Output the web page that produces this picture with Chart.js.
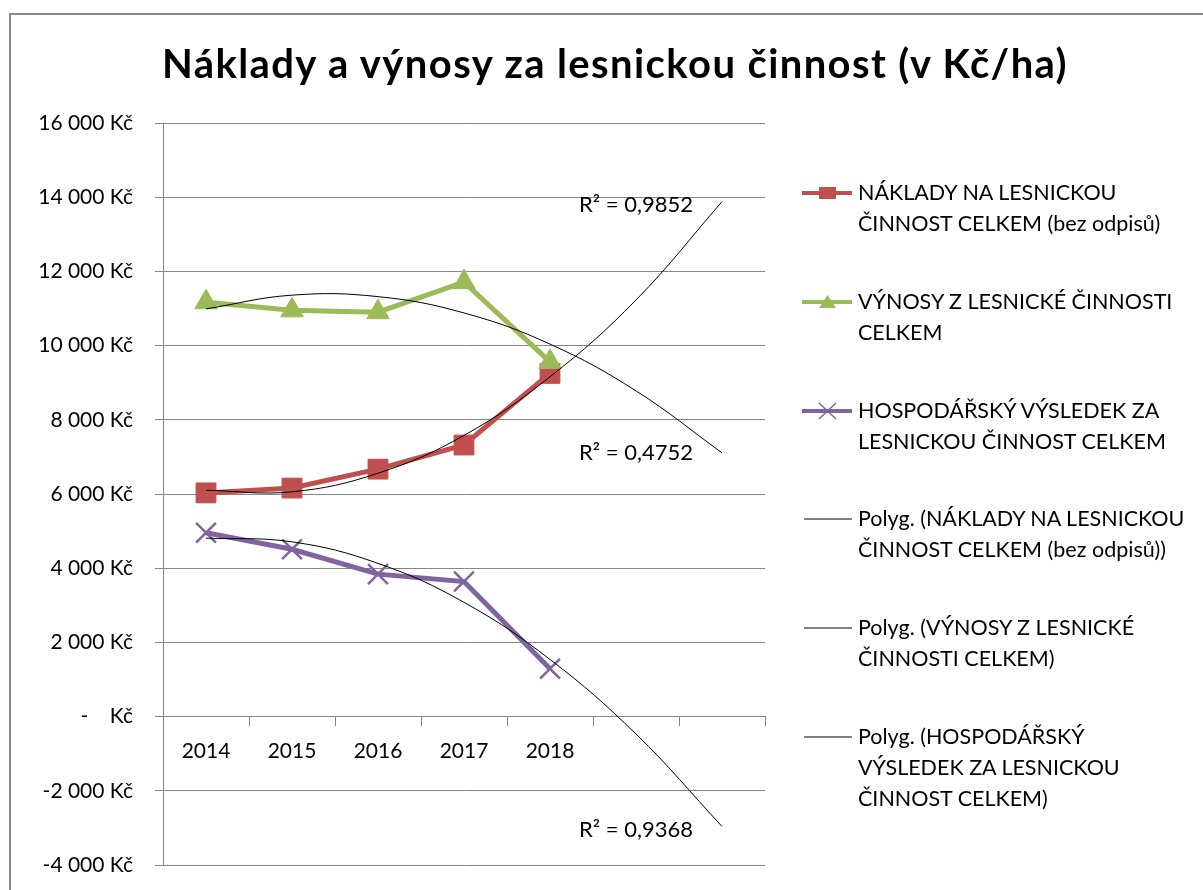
<!DOCTYPE html>
<html lang="cs">
<head>
<meta charset="utf-8">
<title>Náklady a výnosy za lesnickou činnost</title>
<script src="https://cdn.jsdelivr.net/npm/chart.js@4.4.1/dist/chart.umd.min.js"></script>
<style>
  html, body { margin: 0; padding: 0; background: #fff; width: 1203px; height: 890px; overflow: hidden; }
  #frame { position: absolute; left: 9px; top: 13px; width: 1260px; height: 960px; border: 2px solid #8a8a8a; }
  #chart { position: absolute; left: 0; top: 0; }
  #title { position: absolute; left: 0; width: 1230px; top: 39px; text-align: center;
           font: bold 40px Lato, sans-serif; letter-spacing: 1.4px; color: #000; white-space: nowrap; }
  #legend { position: absolute; left: 802px; top: 0; font: 21.5px Lato, sans-serif; color: #000; }
  .item { position: absolute; left: 0; display: flex; align-items: flex-start; }
  .item svg { flex: none; }
  .item .txt { margin-left: 4px; line-height: 31px; white-space: nowrap; }
</style>
</head>
<body>
<div id="frame"></div>
<canvas id="chart" width="1203" height="890"></canvas>
<div id="title">Náklady a výnosy za lesnickou činnost (v Kč/ha)</div>
<div id="legend"></div>
<script>
const $ = (id) => document.getElementById(id);

// categories (two empty slots = trendline forecast)
const years = ["2014", "2015", "2016", "2017", "2018", "", ""];

// series (Kč/ha)
const naklady = [6030, 6160, 6670, 7320, 9250];
const vynosy = [11170, 10950, 10900, 11710, 9560];
const vysledek = [4955, 4510, 3840, 3640, 1290];

// polynomial trendlines as drawn (incl. 2 forecast periods)
const nakladyTrend = [6100, 6060, 6560, 7580, 9160, 11230, 13880];
const vynosyTrend = [10990, 11360, 11320, 10880, 10040, 8780, 7110];
const vysledekTrend = [4810, 4710, 4130, 3080, 1540, -470, -2960];

const rSquared = ["R² = 0,9852", "R² = 0,4752", "R² = 0,9368"];
const rSquaredY = [13780, 7100, -3050];

const yMin = -4000;
const yMax = 16000;
const yStep = 2000;

const seriesNames = [
  ["NÁKLADY NA LESNICKOU", "ČINNOST CELKEM (bez odpisů)"],
  ["VÝNOSY Z LESNICKÉ ČINNOSTI", "CELKEM"],
  ["HOSPODÁŘSKÝ VÝSLEDEK ZA", "LESNICKOU ČINNOST CELKEM"]
];
const trendNames = [
  ["Polyg. (NÁKLADY NA LESNICKOU", "ČINNOST CELKEM (bez odpisů))"],
  ["Polyg. (VÝNOSY Z LESNICKÉ", "ČINNOSTI CELKEM)"],
  ["Polyg. (HOSPODÁŘSKÝ", "VÝSLEDEK ZA LESNICKOU", "ČINNOST CELKEM)"]
];

const RED = "#c0504d";
const GREEN = "#9bbb59";
const PURPLE = "#8064a2";
const GRID = "#868686";
const FONT = "Lato, sans-serif";

function kc(v) {
  if (v === 0) return "-    Kč";
  const s = Math.abs(v).toString().replace(/\B(?=(\d{3})+(?!\d))/g, " ");
  return (v < 0 ? "-" : "") + s + " Kč";
}

const r2Labels = {
  id: "r2Labels",
  afterDatasetsDraw(chart) {
    const { ctx, scales: { x, y } } = chart;
    ctx.save();
    ctx.font = "22px " + FONT;
    ctx.fillStyle = "#000";
    ctx.textAlign = "center";
    ctx.textBaseline = "middle";
    rSquared.forEach((t, i) => ctx.fillText(t, x.getPixelForValue(5), y.getPixelForValue(rSquaredY[i])));
    ctx.restore();
  }
};

function trend(data) {
  return {
    data,
    borderColor: "#000",
    borderWidth: 1,
    pointRadius: 0,
    tension: 0.4,
    order: 0
  };
}

const chart = new Chart($("chart").getContext("2d"), {
  type: "line",
  data: {
    labels: years,
    datasets: [
      {
        data: naklady,
        borderColor: RED,
        backgroundColor: RED,
        borderWidth: 5,
        pointStyle: "rect",
        pointRadius: 14,
        pointBorderWidth: 1,
        order: 3
      },
      {
        data: vynosy,
        borderColor: GREEN,
        backgroundColor: GREEN,
        borderWidth: 5,
        pointStyle: "triangle",
        pointRadius: 13,
        pointBorderWidth: 1,
        order: 2
      },
      {
        data: vysledek,
        borderColor: PURPLE,
        backgroundColor: PURPLE,
        borderWidth: 5,
        pointStyle: "crossRot",
        pointRadius: 14,
        pointBorderWidth: 2.5,
        order: 1
      },
      trend(nakladyTrend),
      trend(vynosyTrend),
      trend(vysledekTrend)
    ]
  },
  options: {
    responsive: false,
    animation: false,
    layout: { padding: { left: 0, right: 1203 - 765, top: 123, bottom: 890 - 865 } },
    plugins: { legend: { display: false }, tooltip: { enabled: false }, title: { display: false } },
    scales: {
      x: {
        position: { y: 0 },
        offset: true,
        afterFit(scale) { scale.height = 0; },
        grid: { offset: true, drawOnChartArea: false, drawTicks: true, tickLength: 9, color: GRID },
        border: { display: true, color: GRID },
        ticks: { color: "#000", font: { family: FONT, size: 21 }, padding: 13, maxRotation: 0, autoSkip: false }
      },
      y: {
        min: yMin,
        max: yMax,
        afterFit(scale) {
          scale.width = 163;
          scale.paddingTop = 0;
          scale.paddingBottom = 0;
        },
        grid: { color: GRID, tickLength: 8, drawTicks: true },
        border: { display: true, color: GRID },
        ticks: {
          stepSize: yStep,
          color: "#000",
          padding: 22,
          font: { family: FONT, size: 21 },
          callback: (v) => kc(v)
        }
      }
    }
  },
  plugins: [r2Labels]
});

// legend built from the same names/colours
function markerSvg(kind, color) {
  const line = kind === "trend"
    ? `<line x1="2" y1="16" x2="50" y2="16" stroke="#000" stroke-width="1"/>`
    : `<line x1="0" y1="16" x2="50" y2="16" stroke="${color}" stroke-width="4"/>`;
  let mark = "";
  if (kind === "rect") mark = `<rect x="17" y="10" width="17" height="12" fill="${color}"/>`;
  if (kind === "triangle") mark = `<polygon points="25.5,9 34,22 17,22" fill="${color}"/>`;
  if (kind === "cross") mark = `<path d="M17,8 L34,24 M34,8 L17,24" stroke="${color}" stroke-width="1.5"/>`;
  return `<svg width="52" height="31" viewBox="0 0 52 31">${line}${mark}</svg>`;
}

const legendItems = [
  { lines: seriesNames[0], kind: "rect", color: RED },
  { lines: seriesNames[1], kind: "triangle", color: GREEN },
  { lines: seriesNames[2], kind: "cross", color: PURPLE },
  { lines: trendNames[0], kind: "trend" },
  { lines: trendNames[1], kind: "trend" },
  { lines: trendNames[2], kind: "trend" }
];

$("legend").innerHTML = legendItems.map((it, i) => `
  <div class="item" style="top:${Math.round(177 + i * 108.8)}px">
    ${markerSvg(it.kind, it.color)}
    <div class="txt">${it.lines.join("<br>")}</div>
  </div>`).join("");
</script>
</body>
</html>
